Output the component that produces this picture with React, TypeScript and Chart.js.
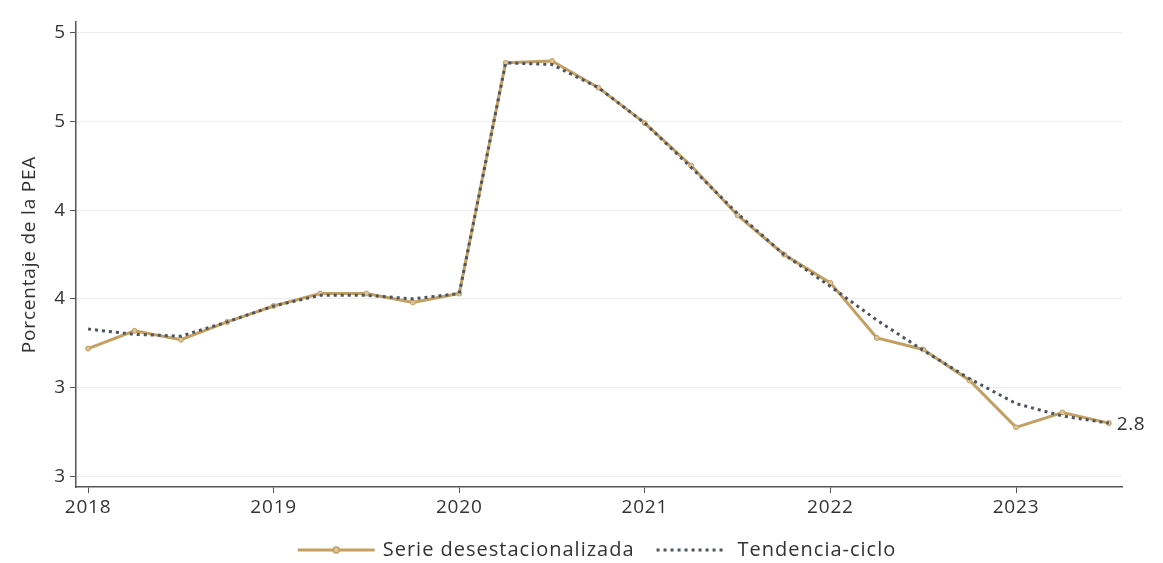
import React, { useEffect, useRef } from "react";
import { Chart, registerables } from "chart.js";

Chart.register(...registerables);

const periods: string[] = [
  "2018-1", "2018-2", "2018-3", "2018-4",
  "2019-1", "2019-2", "2019-3", "2019-4",
  "2020-1", "2020-2", "2020-3", "2020-4",
  "2021-1", "2021-2", "2021-3", "2021-4",
  "2022-1", "2022-2", "2022-3", "2022-4",
  "2023-1", "2023-2", "2023-3",
];

const serieDesestacionalizada: number[] = [
  3.22, 3.32, 3.27, 3.37,
  3.46, 3.53, 3.53, 3.48,
  3.53, 4.83, 4.84, 4.69,
  4.49, 4.25, 3.97, 3.75,
  3.59, 3.28, 3.215, 3.04,
  2.776, 2.86, 2.8,
];

const tendenciaCiclo: number[] = [
  3.33, 3.30, 3.29, 3.37,
  3.46, 3.52, 3.52, 3.50,
  3.53, 4.83, 4.82, 4.69,
  4.49, 4.24, 3.98, 3.75,
  3.57, 3.38, 3.21, 3.05,
  2.91, 2.84, 2.8,
];

const yTicks: number[] = [2.5, 3, 3.5, 4, 4.5, 5];
const xTicks: number[] = [2018, 2019, 2020, 2021, 2022, 2023];

const seriesLabels = ["Serie desestacionalizada", "Tendencia-ciclo"];
const lastLabel = "2.8";

const GOLD = "#c39f62";
const GOLD_LIGHT = "#dcc595";
const DOT = "#4e5360";
const AXIS = "#555555";
const TEXT = "#333333";
const FONT = "'Open Sans', 'Noto Sans', sans-serif";

function periodToX(p: string): number {
  const [y, q] = p.split("-").map(Number);
  return y + (q - 1) / 4;
}

export default function App() {
  const ref = useRef<HTMLCanvasElement | null>(null);

  useEffect(() => {
    document.body.style.margin = "0";
    const canvas = ref.current;
    if (!canvas) return;

    const spacingPlugin = {
      id: "spacing",
      beforeDraw(chart: any) {
        chart.ctx.letterSpacing = "0.8px";
      },
    };

    const endLabelPlugin = {
      id: "endLabel",
      afterDatasetsDraw(chart: any) {
        const meta = chart.getDatasetMeta(0);
        const pt = meta.data[meta.data.length - 1];
        if (!pt) return;
        const ctx = chart.ctx;
        ctx.save();
        ctx.letterSpacing = "0.5px";
        ctx.font = `19px ${FONT}`;
        ctx.fillStyle = TEXT;
        ctx.textAlign = "left";
        ctx.textBaseline = "middle";
        ctx.fillText(lastLabel, pt.x + 8, pt.y + 1);
        ctx.restore();
      },
    };

    const legendPlugin = {
      id: "customLegend",
      afterDraw(chart: any) {
        const ctx = chart.ctx;
        const area = chart.chartArea;
        ctx.save();
        ctx.letterSpacing = "1px";
        ctx.font = `20px ${FONT}`;
        const sample = 77;
        const gapText = 8;
        const gapItems = 22;
        const w0 = ctx.measureText(seriesLabels[0]).width;
        const w1 = ctx.measureText(seriesLabels[1]).width;
        const total = sample + gapText + w0 + gapItems + sample + gapText + w1;
        let x = (area.left + area.right) / 2 - total / 2;
        const y = 550;
        ctx.strokeStyle = GOLD;
        ctx.lineWidth = 3;
        ctx.setLineDash([]);
        ctx.beginPath();
        ctx.moveTo(x, y);
        ctx.lineTo(x + sample, y);
        ctx.stroke();
        ctx.beginPath();
        ctx.arc(x + sample / 2, y, 3, 0, Math.PI * 2);
        ctx.fillStyle = GOLD_LIGHT;
        ctx.fill();
        ctx.lineWidth = 1.5;
        ctx.stroke();
        x += sample + gapText;
        ctx.fillStyle = TEXT;
        ctx.textBaseline = "middle";
        ctx.textAlign = "left";
        ctx.fillText(seriesLabels[0], x, y);
        x += w0 + gapItems;
        ctx.strokeStyle = DOT;
        ctx.lineWidth = 3;
        ctx.setLineDash([3, 4]);
        ctx.beginPath();
        ctx.moveTo(x, y);
        ctx.lineTo(x + sample - 8, y);
        ctx.stroke();
        ctx.setLineDash([]);
        x += sample + gapText - 4;
        ctx.fillText(seriesLabels[1], x, y);
        ctx.restore();
      },
    };

    const xs = periods.map(periodToX);

    const chart = new Chart(canvas, {
      type: "line",
      data: {
        datasets: [
          {
            label: seriesLabels[0],
            data: xs.map((x, i) => ({ x, y: serieDesestacionalizada[i] })),
            borderColor: GOLD,
            borderWidth: 3,
            pointRadius: 2.5,
            pointBackgroundColor: GOLD_LIGHT,
            pointBorderColor: GOLD,
            pointBorderWidth: 1,
            tension: 0,
            order: 1,
          },
          {
            label: seriesLabels[1],
            data: xs.map((x, i) => ({ x, y: tendenciaCiclo[i] })),
            borderColor: DOT,
            borderWidth: 3,
            borderDash: [3, 4],
            pointRadius: 0,
            tension: 0,
            order: 0,
          },
        ],
      },
      options: {
        responsive: false,
        animation: false,
        layout: { padding: { left: 0, top: 22, right: 41, bottom: 36 } },
        plugins: {
          legend: { display: false },
          tooltip: { enabled: false },
        },
        scales: {
          x: {
            type: "linear",
            min: 2017.935,
            max: 2023.571,
            afterBuildTicks: (axis: any) => {
              axis.ticks = xTicks.map((v) => ({ value: v }));
            },
            afterFit: (scale: any) => {
              scale.height = 40;
            },
            grid: {
              display: true,
              drawOnChartArea: false,
              tickLength: 6,
              color: AXIS,
              tickColor: AXIS,
            },
            border: { color: AXIS, width: 1.5 },
            ticks: {
              font: { family: FONT, size: 19 },
              color: TEXT,
              padding: 3,
              maxRotation: 0,
              callback: (v: any) => String(v),
            },
          },
          y: {
            type: "linear",
            min: 2.44,
            max: 5.06,
            afterBuildTicks: (axis: any) => {
              axis.ticks = yTicks.map((v) => ({ value: v }));
            },
            afterFit: (scale: any) => {
              scale.width = 76;
            },
            grid: {
              color: "#ededed",
              tickColor: AXIS,
              tickLength: 6,
              lineWidth: 1,
            },
            border: { color: AXIS, width: 1.5 },
            ticks: {
              font: { family: FONT, size: 19 },
              color: TEXT,
              padding: 4,
              callback: (v: any) => Math.round(Number(v)).toFixed(0),
            },
            title: {
              display: true,
              text: "Porcentaje de la PEA",
              font: { family: FONT, size: 19 },
              color: TEXT,
              padding: { top: 18, bottom: 0 },
            },
          },
        },
      },
      plugins: [spacingPlugin, endLabelPlugin, legendPlugin],
    } as any);

    return () => chart.destroy();
  }, []);

  return (
    <div style={{ width: 1163, height: 563, background: "#fff" }}>
      <canvas ref={ref} width={1163} height={563} style={{ display: "block" }} />
    </div>
  );
}
